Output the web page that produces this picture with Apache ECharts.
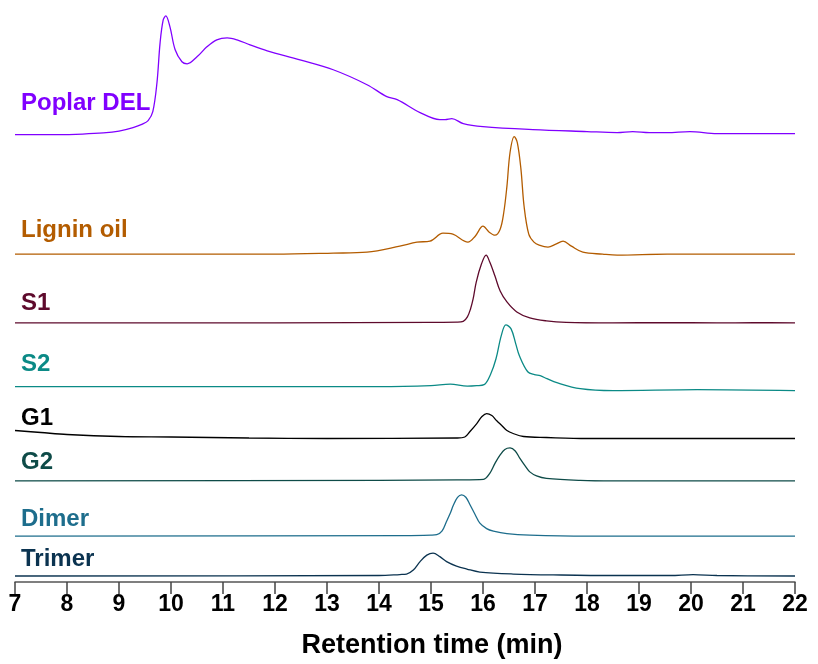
<!DOCTYPE html>
<html>
<head>
<meta charset="utf-8">
<title>GPC chromatograms</title>
<script src="https://cdn.jsdelivr.net/npm/echarts@6/dist/echarts.min.js"></script>
<style>
  html, body { margin: 0; padding: 0; background: #fff; }
  #chart { width: 818px; height: 664px; }
</style>
</head>
<body>
<div id="chart"></div>
<script>
// Retention time axis (min)
const timeMin = 7;
const timeMax = 22;
const timeStep = 1;

// Sample names, drawn from top to bottom
const sampleNames = ['Poplar DEL', 'Lignin oil', 'S1', 'S2', 'G1', 'G2', 'Dimer', 'Trimer'];

// Vertical offsets used to stack the traces (a.u.)
const traceOffsets = [449, 329, 260, 194, 144, 101.5, 46, 6];

// Detector response of each sample: [retention time, intensity]
const poplarDEL = [
  [7.0, 0], [7.8, 0], [8.3, 0.5], [8.7, 1.6], [9.0, 3.5], [9.27, 7], [9.45, 10.5], [9.56, 14],
  [9.65, 23], [9.73, 52], [9.79, 92], [9.85, 115], [9.90, 119], [9.98, 108], [10.08, 85],
  [10.21, 73], [10.31, 71], [10.50, 78], [10.69, 88], [10.88, 95], [11.08, 97], [11.27, 95],
  [11.52, 90], [11.85, 84], [12.48, 75], [13.12, 65], [13.77, 50], [14.15, 38], [14.35, 35],
  [14.79, 22], [15.17, 15], [15.27, 15], [15.40, 16], [15.62, 11], [16.0, 8], [16.96, 5],
  [18.0, 3], [18.58, 2], [18.88, 3], [19.2, 2], [19.54, 2], [19.98, 3], [20.5, 1], [21.2, 1],
  [22.0, 1]
];
const ligninOil = [
  [7.0, 0], [10.0, 0], [12.0, 0], [13.12, 1], [13.77, 2], [14.4, 8], [14.73, 12], [14.98, 13],
  [15.23, 21], [15.42, 20], [15.71, 12], [15.85, 18], [16.0, 28], [16.12, 22], [16.23, 19],
  [16.33, 25], [16.40, 42], [16.46, 68], [16.52, 102], [16.60, 118], [16.66, 112], [16.73, 85],
  [16.79, 48], [16.88, 20], [16.98, 12], [17.08, 9], [17.25, 7], [17.40, 10], [17.54, 13],
  [17.70, 8], [17.92, 2], [18.3, 0], [18.58, -1], [19.54, 0], [22.0, 0]
];
const s1 = [
  [7.0, 0], [12.0, 0], [15.0, 0.5], [15.5, 0.7], [15.62, 1.5], [15.70, 6], [15.76, 14],
  [15.81, 24], [15.87, 41], [15.97, 59], [16.06, 68], [16.13, 61], [16.23, 47], [16.33, 32],
  [16.46, 21], [16.65, 11], [16.90, 5], [17.22, 2], [17.6, 0.5], [18.5, 0], [19.5, 0.3],
  [20.5, 0], [21.2, 0.2], [22.0, 0]
];
const s2 = [
  [7.0, 2], [10.0, 2], [14.0, 2], [15.0, 3], [15.37, 4.5], [15.7, 2.5], [15.88, 3], [16.02, 4],
  [16.15, 15], [16.25, 30], [16.35, 53], [16.44, 64], [16.54, 60], [16.63, 45], [16.70, 33],
  [16.86, 17], [16.99, 14], [17.10, 13], [17.23, 10], [17.42, 6], [17.87, 0], [18.5, -2],
  [20.12, -1], [22.0, -2]
];
const g1 = [
  [7.0, 8], [7.5, 6], [8.0, 4], [9.0, 2], [10.0, 1.5], [11.5, 0.5], [13.0, 0], [15.5, 0.5],
  [15.65, 1.5], [15.75, 7], [15.88, 15], [15.98, 22], [16.07, 25], [16.17, 23], [16.26, 18],
  [16.36, 13], [16.46, 8], [16.58, 5], [16.78, 2], [17.22, 1], [18.0, 0], [22.0, 0]
];
const g2 = [
  [7.0, 0], [14.0, 0.5], [15.5, 1], [16.01, 1.5], [16.13, 7.5], [16.23, 17.5], [16.33, 26],
  [16.42, 31.5], [16.52, 33], [16.62, 30], [16.71, 22.5], [16.81, 15], [16.90, 9], [17.03, 5],
  [17.22, 2.5], [17.87, 0.5], [18.5, 0], [22.0, 0]
];
const dimer = [
  [7.0, 0], [14.5, 0.5], [15.0, 1], [15.11, 1.5], [15.21, 5], [15.30, 15], [15.37, 23],
  [15.43, 31], [15.51, 39], [15.59, 41.5], [15.67, 39], [15.75, 31.5], [15.85, 21.5],
  [15.94, 13], [16.07, 7.5], [16.20, 5], [16.46, 2.5], [16.9, 1], [18.0, 0], [22.0, 0]
];
const trimer = [
  [7.0, 0], [14.0, 0.5], [14.40, 1.5], [14.53, 2], [14.66, 6], [14.79, 14.5], [14.92, 21],
  [15.04, 23], [15.17, 19.5], [15.30, 14.5], [15.49, 10], [15.69, 7], [15.94, 4], [16.58, 2],
  [17.5, 1], [18.5, 0.5], [19.6, 0.5], [20.04, 1.5], [20.5, 0.5], [22.0, 0]
];

const traces = [poplarDEL, ligninOil, s1, s2, g1, g2, dimer, trimer];
const traceColors = ['#8000ff', '#b35c00', '#5e0a2c', '#0b8a86', '#000000', '#0e4b48', '#1d6d8c', '#0b3350'];

// Vertical position (in intensity units) of each sample name
const labelLevels = [480, 353, 280, 218, 164, 120, 63, 23];

const chart = echarts.init(document.getElementById('chart'), null, { renderer: 'canvas' });

const series = traces.map((pts, i) => ({
  name: sampleNames[i],
  type: 'line',
  data: pts.map(p => [p[0], p[1] + traceOffsets[i]]),
  smooth: 0.35,
  showSymbol: false,
  silent: true,
  lineStyle: { color: traceColors[i], width: 1.3 },
  itemStyle: { color: traceColors[i] },
  markPoint: {
    symbol: 'rect',
    symbolSize: 0,
    silent: true,
    data: [{ coord: [timeMin, labelLevels[i]] }],
    label: {
      show: true,
      position: 'right',
      distance: 6,
      formatter: sampleNames[i],
      color: traceColors[i],
      fontFamily: 'Liberation Sans, Arial, sans-serif',
      fontWeight: 'bold',
      fontSize: 24
    }
  }
}));

chart.setOption({
  animation: false,
  backgroundColor: '#ffffff',
  grid: { left: 15, right: 23, top: 0, bottom: 80, containLabel: false },
  xAxis: {
    type: 'value',
    min: timeMin,
    max: timeMax,
    interval: timeStep,
    splitLine: { show: false },
    axisLine: { show: true, lineStyle: { color: '#555', width: 1.5 } },
    axisTick: { show: true, length: 12, lineStyle: { color: '#444', width: 1.5 } },
    axisLabel: {
      margin: 11,
      color: '#000',
      fontFamily: 'Liberation Sans, Arial, sans-serif',
      fontWeight: 'bold',
      fontSize: 23
    },
    name: 'Retention time (min)',
    nameLocation: 'middle',
    nameGap: 50,
    nameTextStyle: {
      color: '#000',
      fontFamily: 'Liberation Sans, Arial, sans-serif',
      fontWeight: 'bold',
      fontSize: 27,
      padding: [0, 0, 0, 54]
    }
  },
  yAxis: {
    type: 'value',
    min: 0,
    max: 584,
    show: false
  },
  series: series
});
</script>
</body>
</html>
